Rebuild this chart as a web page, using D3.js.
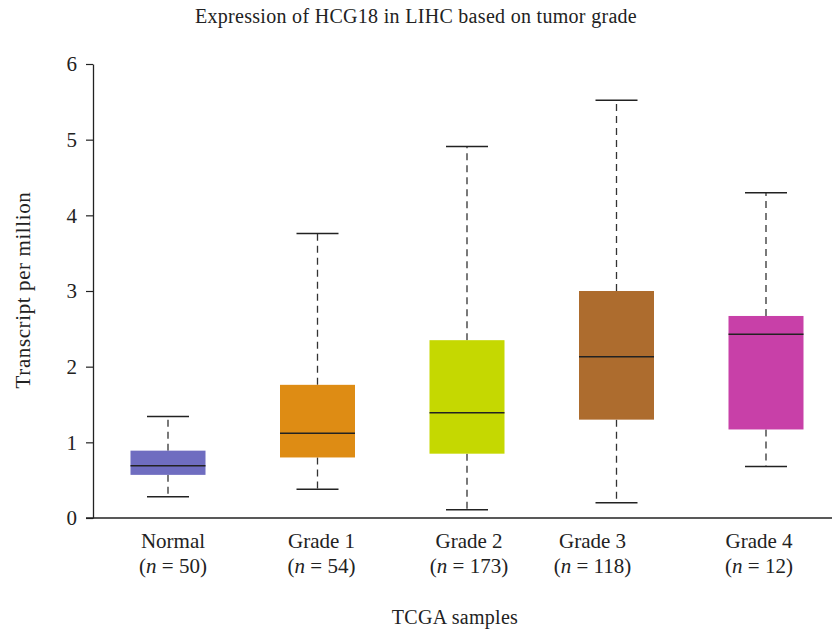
<!DOCTYPE html>
<html>
<head>
<meta charset="utf-8">
<script src="https://cdn.jsdelivr.net/npm/d3@7"></script>
<style>
  body { margin: 0; background: #fff; }
  text { font-family: "Liberation Serif", "DejaVu Serif", serif; fill: #222; }
</style>
</head>
<body>
<div id="chart"></div>
<script>
// data
const groups = ["Normal", "Grade 1", "Grade 2", "Grade 3", "Grade 4"];
const sampleSizes = [50, 54, 173, 118, 12];
const whiskerLow = [0.28, 0.38, 0.11, 0.20, 0.68];
const q1 = [0.57, 0.80, 0.85, 1.30, 1.17];
const medians = [0.69, 1.12, 1.39, 2.13, 2.43];
const q3 = [0.89, 1.76, 2.35, 3.00, 2.67];
const whiskerHigh = [1.34, 3.76, 4.91, 5.52, 4.30];
const yTicks = [0, 1, 2, 3, 4, 5, 6];
const colors = ["#6f6dc0", "#de8c14", "#c5d801", "#ad6c2e", "#c840a8"];

const width = 832, height = 633;
const margin = { top: 64, right: 0, bottom: 115, left: 93 };

const svg = d3.select("#chart").append("svg")
    .attr("width", width)
    .attr("height", height);

const boxes = groups.map((g, i) => ({
    group: g, n: sampleSizes[i], lo: whiskerLow[i], q1: q1[i],
    med: medians[i], q3: q3[i], hi: whiskerHigh[i], color: colors[i]
}));

const x = d3.scalePoint()
    .domain(groups)
    .range([168, 766]);

const y = d3.scaleLinear()
    .domain([0, 6])
    .range([height - margin.bottom, margin.top]);

const boxW = 75;
const capW = 42;

// title
svg.append("text")
    .attr("x", 416)
    .attr("y", 23)
    .attr("text-anchor", "middle")
    .style("font-size", "20px")
    .style("letter-spacing", "0.3px")
    .text("Expression of HCG18 in LIHC based on tumor grade");

// y axis
const yAxis = svg.append("g")
    .attr("transform", "translate(" + margin.left + ",0)")
    .call(d3.axisLeft(y).tickValues(yTicks).tickFormat(d3.format("d"))
        .tickSize(7).tickPadding(9).tickSizeOuter(0));
yAxis.select(".domain").attr("stroke", "#222").attr("stroke-width", 1.3);
yAxis.selectAll(".tick line").attr("stroke", "#222").attr("stroke-width", 1.2);
yAxis.selectAll(".tick text")
    .style("font-family", '"Liberation Serif", serif')
    .style("font-size", "21px")
    .attr("fill", "#222");

// x axis line
svg.append("line")
    .attr("x1", margin.left - 7)
    .attr("x2", width)
    .attr("y1", y(0))
    .attr("y2", y(0))
    .attr("stroke", "#222")
    .attr("stroke-width", 1.5);

const g = svg.selectAll(".box")
    .data(boxes)
    .enter().append("g")
    .attr("class", "box");

// dashed whiskers
g.append("line")
    .attr("x1", d => x(d.group)).attr("x2", d => x(d.group))
    .attr("y1", d => y(d.q3)).attr("y2", d => y(d.hi))
    .attr("stroke", "#333").attr("stroke-width", 1.3)
    .attr("stroke-dasharray", "7,5");
g.append("line")
    .attr("x1", d => x(d.group)).attr("x2", d => x(d.group))
    .attr("y1", d => y(d.q1)).attr("y2", d => y(d.lo))
    .attr("stroke", "#333").attr("stroke-width", 1.3)
    .attr("stroke-dasharray", "7,5");

// caps
g.append("line")
    .attr("x1", d => x(d.group) - capW / 2).attr("x2", d => x(d.group) + capW / 2)
    .attr("y1", d => y(d.hi)).attr("y2", d => y(d.hi))
    .attr("stroke", "#222").attr("stroke-width", 1.5);
g.append("line")
    .attr("x1", d => x(d.group) - capW / 2).attr("x2", d => x(d.group) + capW / 2)
    .attr("y1", d => y(d.lo)).attr("y2", d => y(d.lo))
    .attr("stroke", "#222").attr("stroke-width", 1.5);

// box
g.append("rect")
    .attr("x", d => x(d.group) - boxW / 2)
    .attr("width", boxW)
    .attr("y", d => y(d.q3))
    .attr("height", d => y(d.q1) - y(d.q3))
    .attr("fill", d => d.color);

// median
g.append("line")
    .attr("x1", d => x(d.group) - boxW / 2).attr("x2", d => x(d.group) + boxW / 2)
    .attr("y1", d => y(d.med)).attr("y2", d => y(d.med))
    .attr("stroke", "#222").attr("stroke-width", 1.5);

// category labels (slightly nudged like the original)
const labelShift = [5, 4, 2, -24, -7];
const lab = svg.selectAll(".cat")
    .data(boxes)
    .enter().append("text")
    .attr("class", "cat")
    .attr("text-anchor", "middle")
    .attr("x", (d, i) => x(d.group) + labelShift[i])
    .attr("y", 548)
    .style("font-size", "21px");
lab.append("tspan")
    .attr("x", (d, i) => x(d.group) + labelShift[i])
    .text(d => d.group);
const nLine = lab.append("tspan")
    .attr("x", (d, i) => x(d.group) + labelShift[i])
    .attr("dy", 25)
    .text("(");
nLine.append("tspan").style("font-style", "italic").text("n");
nLine.append("tspan").text(d => " = " + d.n + ")");

// axis titles
svg.append("text")
    .attr("x", 455)
    .attr("y", 624)
    .attr("text-anchor", "middle")
    .style("font-size", "20px")
    .style("letter-spacing", "0.3px")
    .text("TCGA samples");

svg.append("text")
    .attr("transform", "translate(30," + 290 + ") rotate(-90)")
    .attr("text-anchor", "middle")
    .style("font-size", "21px")
    .style("letter-spacing", "0.6px")
    .text("Transcript per million");
</script>
</body>
</html>
